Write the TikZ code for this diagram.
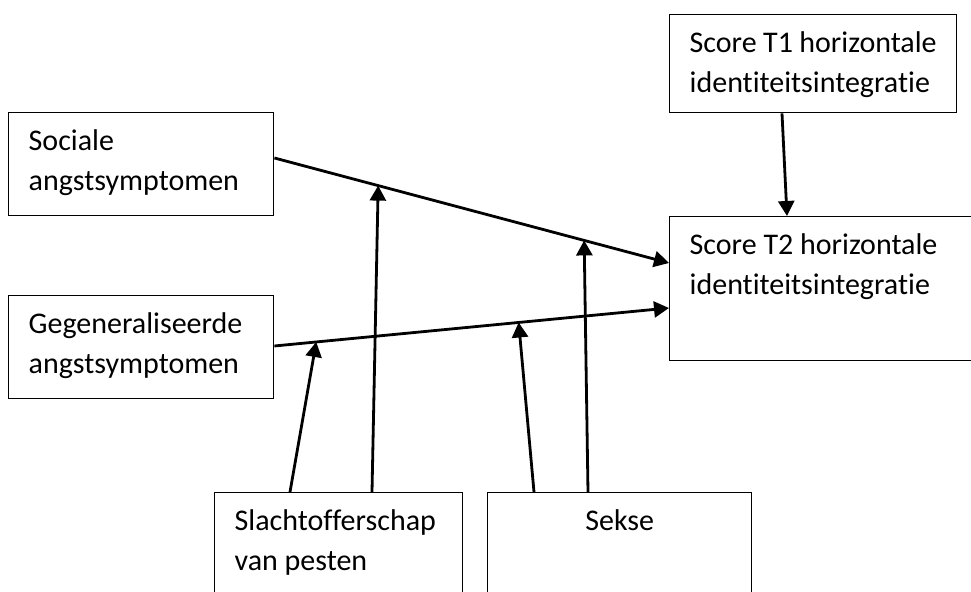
\documentclass[tikz,border=0pt]{standalone}
\usepackage{fontspec}
\setmainfont{Carlito}[Ligatures=NoCommon]
\usepackage{tikz}
\usetikzlibrary{arrows.meta,calc}

\tikzset{
  vak/.style={draw, line width=0.7pt, anchor=north west, align=flush left,
    inner xsep=10pt, inner ysep=9.5pt, text height=9.5pt,
    font=\fontsize{15}{20}\selectfont},
  pijl/.style={line width=1.4pt, -{Triangle[length=7.5pt,width=8pt]}}
}

\begin{document}
\begin{tikzpicture}[x=0.5pt,y=-0.5pt]
        \useasboundingbox (0,0) rectangle (971,592);
        \clip (0,0) rectangle (971,592);
        % boxes
        \node[vak, text width=112.5pt, text depth=23pt] (soc) at (8,112) {Sociale\\angstsymptomen};
        \node[vak, text width=112.5pt, text depth=23pt] (gen) at (8,295) {Gegeneraliseerde\\angstsymptomen};
        \node[vak, text width=123.5pt, text depth=20.5pt] (t1) at (669,14) {Score T1 horizontale\\identiteitsintegratie};
        \node[vak, text width=150pt, text depth=43.5pt] (t2) at (669,216) {Score T2 horizontale\\identiteitsintegratie};
        \node[vak, text width=104pt, text depth=60pt] (sla) at (214,492) {Slachtofferschap\\van pesten};
        \node[vak, align=flush center, text width=112pt, text depth=60pt] (sek) at (487,492) {Sekse};
        % main paths
        \draw[pijl] ($(soc.north east)+(0,46)$) -- ($(t2.north west)+(0,47)$)
            coordinate[pos=0.263] (ms1) coordinate[pos=0.785] (ms2);
        \draw[pijl] ($(gen.north east)+(0,51)$) -- ($(t2.north west)+(0,92)$)
            coordinate[pos=0.106] (mg1) coordinate[pos=0.619] (mg2);
        \draw[pijl] ($(t1.south west)+(113,0)$) -- ($(t2.north west)+(118,0)$);
        % moderators
        \draw[pijl] ($(sla.north west)+(76,0)$) -- (mg1);
        \draw[pijl] ($(sla.north west)+(158,0)$) -- (ms1);
        \draw[pijl] ($(sek.north west)+(47,0)$) -- (mg2);
        \draw[pijl] ($(sek.north west)+(101,0)$) -- (ms2);
    \end{tikzpicture}
\end{document}
